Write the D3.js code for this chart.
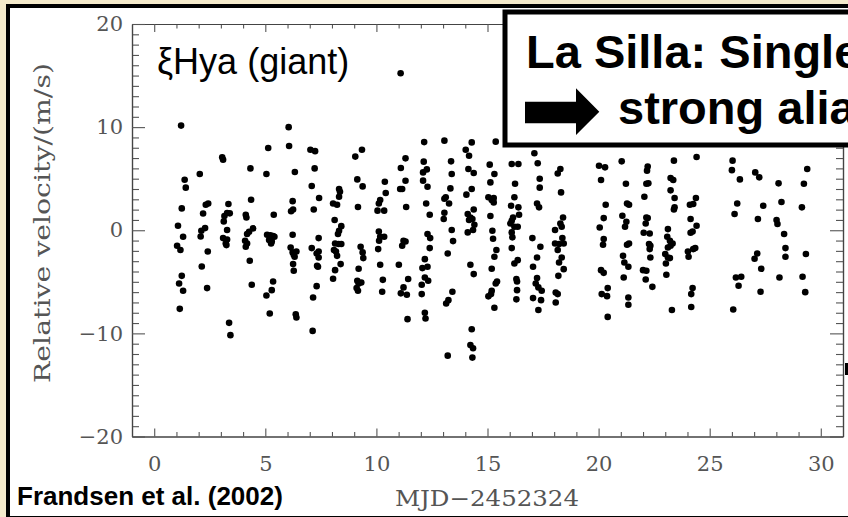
<!DOCTYPE html>
<html>
<head>
<meta charset="utf-8">
<script src="https://cdn.jsdelivr.net/npm/d3@7"></script>
<style>
  html, body { margin: 0; padding: 0; background: #f4eacb; }
  svg { display: block; }
</style>
</head>
<body>
<svg id="chart" width="848" height="517"></svg>
<script>
// Tick values
const xMajorTicks = [0, 5, 10, 15, 20, 25, 30];
const xMinorTicks = d3.range(0, 31);
const yMajorTicks = [-20, -10, 0, 10, 20];
const yMinorTicks = d3.range(-20, 21);

// Radial velocities of xi Hya: [MJD - 2452324, relative velocity in m/s]
const observations = [
  [1.21,10.15],[1.37,4.9],[1.42,4.13],[1.24,2.12],[1.07,0.44],[1.30,-0.63],[1.03,-1.5],[1.18,-1.92],[1.24,-4.42],[1.12,-5.16],[1.30,-5.87],[1.15,-7.62],
  [2.05,5.45],[2.43,2.6],[2.32,2.48],[2.2,1.63],[2.29,0.21],[2.12,-0.05],[2.09,-0.6],[2.41,-2.06],[2.14,-3.52],[2.38,-5.61],
  [3.06,7.07],[3.1,6.84],[3.34,2.54],[3.28,1.67],[3.4,1.64],[3.16,1.38],[3.13,0.86],[3.28,0.02],[3.1,-0.76],[3.28,-0.89],[3.22,-1.28],[3.25,-1.44],[3.37,-8.98],[3.43,-10.17],
  [4.33,6.0],[4.36,2.96],[4.12,1.5],[4.15,1.24],[4.45,0.18],[4.27,-0.15],[4.18,-0.37],[4.09,-1.02],[4.18,-1.28],[4.12,-1.6],[4.3,-2.96],[4.39,-5.29],
  [5.13,7.98],[5.05,5.45],[5.38,1.5],[5.08,-0.44],[5.23,-0.5],[5.35,-0.56],[5.41,-0.63],[5.17,-0.95],[5.29,-1.09],[5.26,-1.28],[5.35,-4.97],[5.29,-5.81],[5.05,-6.33],[5.2,-8.07],
  [6.05,10.0],[6.07,8.17],[6.33,5.65],[6.23,2.82],[6.25,2.01],[6.16,1.84],[6.23,-0.44],[6.14,-1.67],[6.23,-2.15],[6.4,-2.06],[6.28,-2.38],[6.32,-2.57],[6.25,-3.28],[6.28,-3.93],[6.37,-8.14],[6.4,-8.46],
  [7.03,7.8],[7.24,7.67],[7.22,6.0],[7.09,4.29],[7.42,3.13],[7.18,2.01],[7.4,-0.76],[7.09,-1.73],[7.4,-2.06],[7.31,-2.25],[7.4,-2.64],[7.33,-3.45],[7.37,-3.54],[7.31,-5.42],[7.15,-6.52],[7.13,-9.76],
  [8.32,4.0],[8.36,3.74],[8.32,3.25],[8.05,2.6],[8.23,2.48],[8.12,0.99],[8.42,0.4],[8.32,-0.05],[8.27,-0.37],[8.14,-1.28],[8.3,-1.34],[8.42,-1.34],[8.09,-1.92],[8.18,-2.06],[8.23,-2.48],[8.39,-3.28],[8.14,-3.87],[8.05,-4.71],
  [9.05,7.14],[9.35,7.8],[9.14,4.93],[9.38,4.25],[9.17,2.25],[9.29,-1.6],[9.38,-2.15],[9.41,-2.7],[9.2,-3.74],[9.14,-4.9],[9.32,-5.07],[9.2,-5.16],[9.11,-5.61],[9.17,-5.87],
  [10.38,4.7],[10.42,3.61],[10.17,2.93],[10.11,2.6],[10.35,1.9],[10.05,1.9],[10.11,-0.12],[10.17,-0.63],[10.35,-0.63],[10.12,-1.02],[10.08,-1.83],[10.17,-3.35],[10.29,-4.81],[10.26,-5.96],
  [11.09,15.22],
  [11.31,6.97],[11.1,6.04],[11.31,4.8],[11.07,4.0],[11.16,4.0],[11.34,2.25],[11.22,-1.02],[11.31,-1.09],[11.16,-1.5],[11.01,-3.35],[11.43,-4.73],[11.22,-5.54],[11.1,-6.12],[11.37,-6.26],[11.4,-8.62],
  [12.15,8.55],[12.13,6.65],[12.27,5.9],[12.1,5.61],[12.1,4.81],[12.3,4.22],[12.24,2.6],[12.4,1.5],[12.3,-0.37],[12.42,-0.76],[12.4,-1.73],[12.18,-2.8],[12.3,-3.54],[12.07,-3.67],[12.18,-4.58],[12.33,-4.9],[12.04,-5.29],[12.04,-6.19],[12.18,-8.01],[12.21,-8.56],
  [13.06,8.69],[13.36,6.68],[13.39,5.45],[13.33,4.06],[13.12,3.2],[13.06,3.06],[13.27,2.6],[13.06,1.7],[13.03,1.09],[13.39,0.02],[13.45,-1.05],[13.21,-2.25],[13.42,-5.96],[13.24,-6.78],[13.14,-7.11],[13.21,-12.16],
  [14.29,8.52],[14.02,7.8],[14.17,7.23],[14.14,5.94],[14.38,5.55],[14.29,4.0],[14.05,3.45],[14.38,2.01],[14.11,1.57],[14.23,1.24],[14.32,1.09],[14.17,0.99],[14.41,0.53],[14.35,0.02],[14.11,-0.21],[14.23,-3.35],[14.38,-4.25],[14.29,-9.6],[14.23,-11.12],[14.35,-11.44],[14.32,-12.35],
  [15.37,8.59],[15.1,6.36],[15.31,5.45],[15.13,4.64],[15.04,3.2],[15.28,3.13],[15.19,2.93],[15.28,2.7],[15.13,1.38],[15.22,-0.05],[15.25,-0.83],[15.4,-1.92],[15.31,-2.57],[15.19,-3.74],[15.43,-4.97],[15.37,-5.16],[15.19,-5.87],[15.16,-6.19],[15.04,-6.41],[15.31,-7.51],
  [16.09,6.42],[16.39,6.42],[16.24,4.51],[16.21,3.2],[16.06,2.38],[16.39,2.22],[16.42,1.5],[16.15,1.24],[16.09,0.92],[16.03,0.66],[16.21,0.34],[16.36,0.34],[16.09,-0.21],[16.12,-0.69],[16.09,-1.73],[16.36,-2.9],[16.21,-3.22],[16.3,-4.73],[16.33,-4.97],[16.33,-5.81],[16.3,-6.7],
  [17.11,7.46],[17.26,6.49],[17.35,5.0],[17.35,4.13],[17.23,2.6],[17.32,2.22],[17.02,-0.76],[17.38,-1.6],[17.23,-2.64],[17.05,-3.54],[17.23,-4.64],[17.17,-5.16],[17.29,-5.54],[17.44,-5.87],[17.05,-6.58],[17.41,-6.78],[17.29,-7.73],
  [18.28,5.94],[18.16,5.51],[18.31,3.67],[18.4,1.24],[18.28,0.66],[18.34,0.34],[18.04,0.02],[18.37,-0.76],[18.04,-1.28],[18.43,-1.28],[18.22,-1.34],[18.16,-1.92],[18.34,-2.64],[18.22,-3.13],[18.43,-3.77],[18.19,-4.42],[18.07,-6.04],[18.16,-6.19],[18.07,-7.0],
  [20.02,6.26],[20.29,6.1],[20.11,4.87],[20.32,2.48],[20.23,1.18],[20.05,0.27],[20.23,-0.86],[20.2,-1.41],[20.11,-3.87],[20.23,-4.13],[20.41,-5.61],[20.14,-6.19],[20.38,-6.39],[20.41,-8.4],
  [21.04,6.68],[21.23,4.51],[21.28,2.6],[21.37,2.48],[21.07,1.41],[21.25,0.83],[21.19,0.34],[21.37,-1.28],[21.28,-1.41],[21.1,-2.48],[21.16,-3.13],[21.34,-3.54],[21.13,-4.58],[21.34,-6.52],[21.34,-7.23],
  [22.21,6.17],[22.18,5.78],[22.24,4.55],[22.15,4.51],[22.06,3.25],[22.15,1.24],[22.21,1.18],[22.12,0.66],[22.03,-0.24],[22.3,-0.31],[22.27,-1.34],[22.33,-1.5],[22.3,-1.83],[22.33,-2.64],[22.0,-3.87],[22.15,-3.93],[22.12,-4.77],[22.42,-5.49],
  [23.39,6.75],[23.24,5.07],[23.36,4.87],[23.24,3.87],[23.42,3.13],[23.42,2.22],[23.39,2.01],[23.12,0.11],[23.09,-0.63],[23.21,-1.02],[23.33,-1.28],[23.24,-1.5],[23.12,-1.67],[23.0,-2.31],[23.12,-2.64],[23.21,-2.7],[23.03,-3.22],[23.05,-4.32],[23.3,-7.73],
  [24.41,7.1],[24.38,3.13],[24.26,2.54],[24.11,2.48],[24.41,0.44],[24.14,1.09],[24.23,-0.12],[24.14,-0.24],[24.35,-1.73],[24.26,-1.83],[24.02,-2.06],[24.05,-2.57],[24.23,-5.61],[24.17,-6.19],[24.17,-7.44],
  [26.03,6.75],[26.0,5.83],[26.36,4.93],[26.24,2.6],[26.12,1.57],[26.18,-4.58],[26.42,-4.51],[26.3,-5.38],[26.06,-7.68],
  [27.05,5.61],[27.23,5.13],[27.41,2.38],[27.17,1.09],[27.14,-2.25],[27.02,-2.77],[27.32,-3.74],[27.29,-5.96],
  [28.1,4.55],[28.23,2.74],[28.01,0.99],[28.05,0.6],[28.35,-0.37],[28.41,-1.73],[28.41,-2.57],[28.14,-4.58],
  [29.39,5.94],[29.24,4.51],[29.15,2.22],[29.33,-2.31],[29.18,-4.51],[29.3,-6.0]
];

// Text
const starLabel = "ξHya (giant)";
const noteLines = ["La Silla: Single site", "strong aliasing"];
const citation = "Frandsen et al. (2002)";
const xTitle = "MJD−2452324";
const yTitle = "Relative velocity/(m/s)";

const serif = "'DejaVu Serif', serif";
const sans = "'Liberation Sans', Arial, sans-serif";
const axisInk = "#555";

const svg = d3.select("#chart");

// Slide background and black-edged card
svg.append("rect").attr("width", 848).attr("height", 517).attr("fill", "#f4eacb");
svg.append("rect")
  .attr("x", 8).attr("y", 6).attr("width", 900).attr("height", 512)
  .attr("fill", "#fff").attr("stroke", "#000").attr("stroke-width", 4);

// Scales
const x = d3.scaleLinear().domain([-1, 31]).range([132, 843]);
const y = d3.scaleLinear().domain([-20, 20]).range([436.5, 24]);

function styleAxis(g) {
  g.selectAll("path.domain").attr("stroke", "#444").attr("stroke-width", 1.2);
  g.selectAll(".tick line").attr("stroke", "#555").attr("stroke-width", 1.1);
}

// Minor ticks on all four sides (inward)
const minorX = xMinorTicks.filter(d => !xMajorTicks.includes(d));
const minorY = yMinorTicks.filter(d => !yMajorTicks.includes(d));

svg.append("g").attr("transform", `translate(0,${y(-20)})`)
  .call(d3.axisBottom(x).tickValues(minorX).tickSize(-4.5).tickSizeOuter(0).tickFormat(""))
  .call(styleAxis);
svg.append("g").attr("transform", `translate(0,${y(20)})`)
  .call(d3.axisTop(x).tickValues(minorX).tickSize(-4.5).tickSizeOuter(0).tickFormat(""))
  .call(styleAxis);
svg.append("g").attr("transform", `translate(${x(-1)},0)`)
  .call(d3.axisLeft(y).tickValues(minorY).tickSize(-7).tickSizeOuter(0).tickFormat(""))
  .call(styleAxis);
svg.append("g").attr("transform", `translate(${x(31)},0)`)
  .call(d3.axisRight(y).tickValues(minorY).tickSize(-7).tickSizeOuter(0).tickFormat(""))
  .call(styleAxis);

// Major ticks and labels
const xAxisG = svg.append("g").attr("transform", `translate(0,${y(-20)})`)
  .call(d3.axisBottom(x).tickValues(xMajorTicks).tickSize(-8).tickSizeOuter(0).tickPadding(20))
  .call(styleAxis);
svg.append("g").attr("transform", `translate(0,${y(20)})`)
  .call(d3.axisTop(x).tickValues(xMajorTicks).tickSize(-8).tickSizeOuter(0).tickFormat(""))
  .call(styleAxis);
const yAxisG = svg.append("g").attr("transform", `translate(${x(-1)},0)`)
  .call(d3.axisLeft(y).tickValues(yMajorTicks).tickSize(-13).tickSizeOuter(0).tickPadding(9))
  .call(styleAxis);
svg.append("g").attr("transform", `translate(${x(31)},0)`)
  .call(d3.axisRight(y).tickValues(yMajorTicks).tickSize(-13).tickSizeOuter(0).tickFormat(""))
  .call(styleAxis);

[xAxisG, yAxisG].forEach(g => g.selectAll(".tick text")
  .attr("font-family", serif).attr("font-size", 21).attr("fill", axisInk));

// Axis titles
svg.append("text")
  .attr("x", 487).attr("y", 506)
  .attr("text-anchor", "middle")
  .attr("font-family", serif).attr("font-size", 22).attr("fill", axisInk)
  .attr("textLength", 184).attr("lengthAdjust", "spacingAndGlyphs")
  .text(xTitle);
svg.append("text")
  .attr("transform", "translate(50,223) rotate(-90)")
  .attr("text-anchor", "middle")
  .attr("font-family", serif).attr("font-size", 22).attr("fill", axisInk)
  .attr("textLength", 320).attr("lengthAdjust", "spacingAndGlyphs")
  .text(yTitle);

// Observations
svg.append("g")
  .selectAll("circle")
  .data(observations)
  .join("circle")
  .attr("cx", d => x(d[0]))
  .attr("cy", d => y(d[1]))
  .attr("r", 3.3)
  .attr("fill", "#000");

// Star name
svg.append("text")
  .attr("x", 157).attr("y", 74)
  .attr("font-family", sans).attr("font-size", 36).attr("fill", "#000")
  .text(starLabel);

// Citation
svg.append("text")
  .attr("x", 17).attr("y", 505)
  .attr("font-family", sans).attr("font-size", 26).attr("font-weight", "bold").attr("fill", "#000")
  .text(citation);

// Callout box with arrow
const note = svg.append("g");
note.append("rect")
  .attr("x", 505).attr("y", 12).attr("width", 420).attr("height", 133)
  .attr("fill", "#fff").attr("stroke", "#000").attr("stroke-width", 5);
note.append("path")
  .attr("d", "M525,101.7H576V88.3L599.3,111.7L576,135V123.3H525Z")
  .attr("fill", "#000");
note.append("text")
  .attr("x", 526).attr("y", 68)
  .attr("font-family", sans).attr("font-size", 47).attr("font-weight", "bold").attr("fill", "#000")
  .text(noteLines[0]);
note.append("text")
  .attr("x", 618).attr("y", 124)
  .attr("font-family", sans).attr("font-size", 47).attr("font-weight", "bold").attr("fill", "#000")
  .text(noteLines[1]);

// Edge of a neighbouring element at the right margin
svg.append("rect").attr("x", 845).attr("y", 363).attr("width", 6).attr("height", 12).attr("fill", "#000");
</script>
</body>
</html>
